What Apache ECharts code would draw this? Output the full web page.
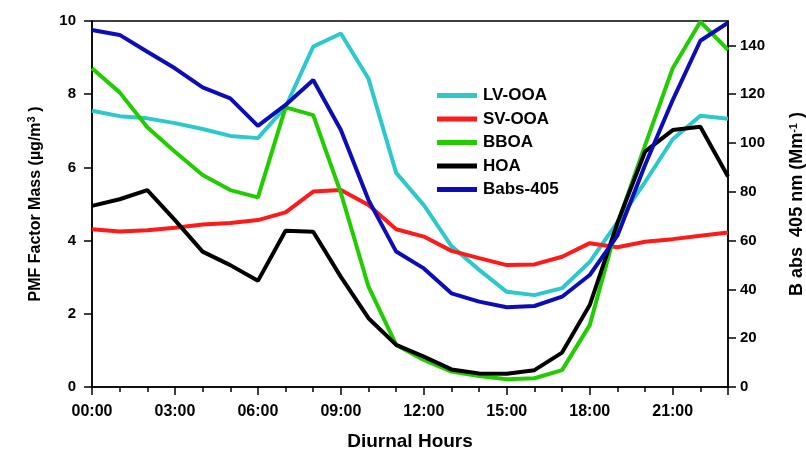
<!DOCTYPE html>
<html>
<head>
<meta charset="utf-8">
<script src="https://cdn.jsdelivr.net/npm/echarts@6/dist/echarts.min.js"></script>
<style>
  html, body { margin: 0; padding: 0; background: #fff; }
  #chart { width: 806px; height: 451px; }
</style>
</head>
<body>
<div id="chart"></div>
<script>
// 小时 (0-23)
const hours = [0, 1, 2, 3, 4, 5, 6, 7, 8, 9, 10, 11, 12, 13, 14, 15, 16, 17, 18, 19, 20, 21, 22, 23]

// 左轴: PMF 因子质量 (µg/m3)
const lvOoa = [7.55, 7.40, 7.34, 7.21, 7.05, 6.86, 6.80, 7.65, 9.30, 9.66, 8.42, 5.85, 4.97, 3.85, 3.20, 2.60, 2.51, 2.70, 3.42, 4.50, 5.60, 6.77, 7.41, 7.33]
const svOoa = [4.31, 4.25, 4.28, 4.35, 4.44, 4.48, 4.56, 4.77, 5.34, 5.38, 4.97, 4.31, 4.11, 3.72, 3.52, 3.33, 3.35, 3.56, 3.93, 3.82, 3.97, 4.04, 4.13, 4.22]
const bboa = [8.71, 8.05, 7.10, 6.43, 5.79, 5.38, 5.18, 7.64, 7.43, 5.30, 2.74, 1.15, 0.74, 0.42, 0.30, 0.21, 0.24, 0.46, 1.69, 4.45, 6.60, 8.71, 9.98, 9.21]
const hoa = [4.95, 5.13, 5.38, 4.56, 3.70, 3.33, 2.90, 4.27, 4.24, 3.01, 1.88, 1.15, 0.83, 0.48, 0.37, 0.36, 0.46, 0.94, 2.24, 4.48, 6.43, 7.02, 7.11, 5.75]

// 右轴: Babs-405 (Mm-1)
const babs405 = [146.3, 144.3, 137.4, 130.6, 122.8, 118.3, 107.0, 115.6, 125.8, 105.3, 76.6, 55.5, 48.6, 38.4, 35.0, 32.7, 33.2, 37.0, 45.9, 62.0, 91.0, 117.6, 141.9, 149.3]

const seriesNames = ['LV-OOA', 'SV-OOA', 'BBOA', 'HOA', 'Babs-405']
const seriesColors = ['#2cc8cc', '#ff1a1a', '#22cc00', '#000000', '#0c0cb8']

const pair = (arr) => hours.map((h, i) => [h, arr[i]])

const chart = echarts.init(document.getElementById('chart'))

const labelStyle = {
  color: '#000',
  fontFamily: 'Arial, "Liberation Sans", sans-serif',
  fontWeight: 'bold',
  fontSize: 15
}

const supStyle = {
  sup: { fontSize: 11, fontWeight: 'bold', verticalAlign: 'top', padding: [0, 0, 8, 0] }
}

const makeLine = (name, data, color, yIndex) => ({
  name: name,
  type: 'line',
  yAxisIndex: yIndex,
  data: pair(data),
  showSymbol: false,
  symbol: 'none',
  lineStyle: { color: color, width: 4 },
  itemStyle: { color: color }
})

const option = {
  animation: false,
  backgroundColor: '#fff',
  grid: {
    left: 92,
    right: 78,
    top: 21,
    bottom: 64,
    containLabel: false,
    outerBoundsMode: 'none',
    show: true,
    borderColor: '#000',
    borderWidth: 1.5
  },
  legend: {
    orient: 'vertical',
    left: 432,
    top: 82,
    itemWidth: 40,
    itemHeight: 5,
    itemGap: 6.5,
    icon: 'rect',
    data: seriesNames,
    textStyle: {
      color: '#000',
      fontFamily: 'Arial, "Liberation Sans", sans-serif',
      fontWeight: 'bold',
      fontSize: 17,
      padding: [0, 0, 0, 1]
    }
  },
  xAxis: {
    type: 'value',
    min: 0,
    max: 23,
    interval: 3,
    name: 'Diurnal Hours',
    nameLocation: 'middle',
    nameGap: 45,
    nameTextStyle: Object.assign({}, labelStyle, { fontSize: 19 }),
    axisLine: { show: true, lineStyle: { color: '#000', width: 1.5 } },
    axisTick: { show: true, length: 8, lineStyle: { color: '#000', width: 1.5 } },
    minorTick: { show: true, splitNumber: 3, length: 5, lineStyle: { color: '#000', width: 1.5 } },
    splitLine: { show: false },
    axisLabel: Object.assign({}, labelStyle, {
      fontSize: 16,
      margin: 17,
      showMaxLabel: false,
      formatter: (v) => (v < 10 ? '0' + v : v) + ':00'
    })
  },
  yAxis: [
    {
      type: 'value',
      min: 0,
      max: 10,
      interval: 2,
      position: 'left',
      name: 'PMF Factor Mass (µg/m{sup|3} )',
      nameLocation: 'middle',
      nameRotate: 90,
      nameGap: 47,
      nameTextStyle: Object.assign({}, labelStyle, { fontSize: 16, rich: supStyle }),
      axisLine: { show: true, lineStyle: { color: '#000', width: 1.5 } },
      axisTick: { show: true, length: 8, lineStyle: { color: '#000', width: 1.5 } },
      splitLine: { show: false },
      axisLabel: Object.assign({}, labelStyle, { margin: 16 })
    },
    {
      type: 'value',
      min: 0,
      max: 150,
      interval: 20,
      position: 'right',
      name: 'B abs  405 nm (Mm{sup|-1} )',
      nameLocation: 'middle',
      nameRotate: 90,
      nameGap: 60,
      nameTextStyle: Object.assign({}, labelStyle, { fontSize: 18, rich: supStyle }),
      axisLine: { show: true, lineStyle: { color: '#000', width: 1.5 } },
      axisTick: { show: true, length: 8, lineStyle: { color: '#000', width: 1.5 } },
      splitLine: { show: false },
      axisLabel: Object.assign({}, labelStyle, { margin: 12, showMaxLabel: false })
    }
  ],
  series: [
    makeLine(seriesNames[0], lvOoa, seriesColors[0], 0),
    makeLine(seriesNames[1], svOoa, seriesColors[1], 0),
    makeLine(seriesNames[2], bboa, seriesColors[2], 0),
    makeLine(seriesNames[3], hoa, seriesColors[3], 0),
    makeLine(seriesNames[4], babs405, seriesColors[4], 1)
  ]
}

chart.setOption(option)
</script>
</body>
</html>
